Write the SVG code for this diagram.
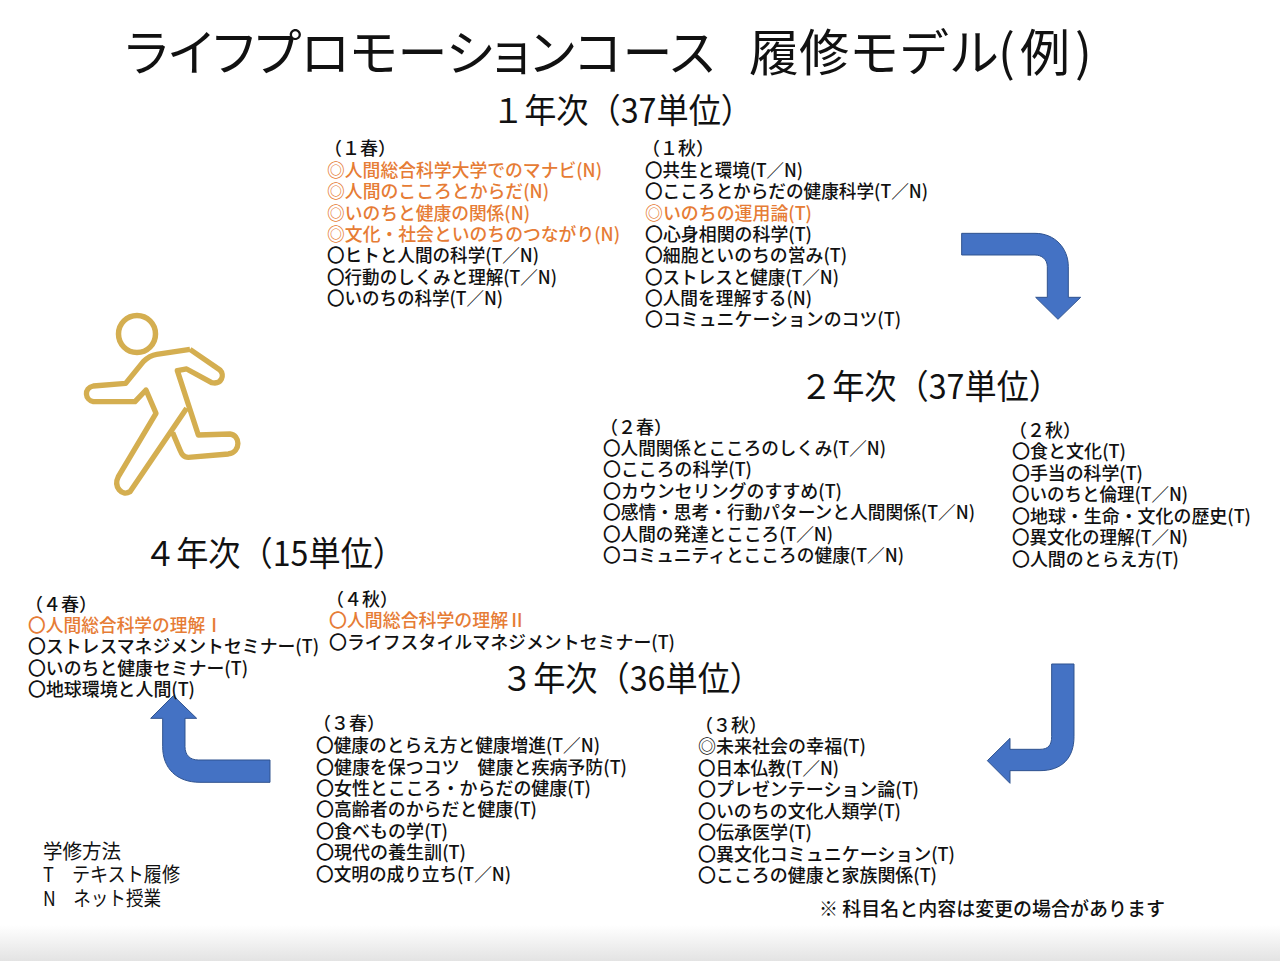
<svg xmlns="http://www.w3.org/2000/svg" width="1280" height="961" viewBox="0 0 1280 961">
<defs>
<linearGradient id="fade" x1="0" y1="0" x2="0" y2="1"><stop offset="0" stop-color="#fff"/><stop offset="1" stop-color="#e3e3e3"/></linearGradient>
</defs>
<style>
text{font-family:"Noto Sans CJK JP","Noto Sans",sans-serif;fill:#111;white-space:pre}
.t{font-size:18px;font-weight:500}
.o{fill:#E67C35}
.y{font-size:34px}
.l{font-size:20px}
.n{font-size:19px;font-weight:500}
.a{fill:#4472C4;stroke:#2F528F;stroke-width:3}
</style>
<rect width="1280" height="961" fill="#fff"/>
<rect y="925" width="1280" height="36" fill="url(#fade)"/>
<g id="title"><text y="70.500" font-size="50"><tspan x="125" textLength="640" lengthAdjust="spacing" style="font-feature-settings:'palt'">ライフプロモーションコース　</tspan><tspan x="749">履修モデル</tspan><tspan x="998">(</tspan><tspan x="1020">例</tspan><tspan x="1075">)</tspan></text></g>
<g id="runner" fill="none" stroke="#D4AE50" stroke-width="5.5" stroke-linejoin="round">
<circle cx="137" cy="334" r="18.5"/>
<path transform="translate(60,300) scale(.3333)" stroke-width="16" d="M390 148L480 210C495 225 485 255 455 248L380 207L352 212L415 405L510 402C540 405 545 455 505 462L385 472C370 472 365 462 360 450L338 398M380 325L210 575C185 590 160 560 175 530L288 340L258 270L225 305L100 305C75 300 70 265 100 258L197 250L250 185C265 170 275 165 290 163L390 148"/>
</g>
<g id="connectors">
<path class="a" transform="translate(940,220) scale(.3333)" d="M65 40H285C345 40 385 85 385 140V232H422L354 298L287 232H322V140C322 118 305 105 285 105H65Z"/>
<path class="a" transform="translate(970,650) scale(.3333)" d="M245 42H312V260C312 325 275 362 210 362H120V400L52 332L120 265V298H210C235 298 245 285 245 260Z"/>
<path class="a" transform="translate(140,680) scale(.3333)" d="M390 240V307H180C110 307 68 265 68 200V115H32L100 47L170 115H135V200C135 225 150 240 175 240Z"/>
</g>
<g id="year1"><text class="y" x="492" y="123" textLength="261" lengthAdjust="spacingAndGlyphs">１年次（37単位）</text></g>
<g id="spring1">
<text class="t" x="324" y="155" textLength="72" lengthAdjust="spacingAndGlyphs">（１春）</text>
<text class="t o" x="327" y="177" textLength="275" lengthAdjust="spacingAndGlyphs">◎人間総合科学大学でのマナビ(N)</text>
<text class="t o" x="327" y="198" textLength="222" lengthAdjust="spacingAndGlyphs">◎人間のこころとからだ(N)</text>
<text class="t o" x="327" y="219.500" textLength="203" lengthAdjust="spacingAndGlyphs">◎いのちと健康の関係(N)</text>
<text class="t o" x="327" y="241" textLength="293" lengthAdjust="spacingAndGlyphs">◎文化・社会といのちのつながり(N)</text>
<text class="t" x="327" y="262" textLength="212" lengthAdjust="spacingAndGlyphs">〇ヒトと人間の科学(T／N)</text>
<text class="t" x="327" y="283.500" textLength="230" lengthAdjust="spacingAndGlyphs">〇行動のしくみと理解(T／N)</text>
<text class="t" x="327" y="305" textLength="176" lengthAdjust="spacingAndGlyphs">〇いのちの科学(T／N)</text>
</g>
<g id="autumn1">
<text class="t" x="642" y="155" textLength="72" lengthAdjust="spacingAndGlyphs">（１秋）</text>
<text class="t" x="645" y="177" textLength="158" lengthAdjust="spacingAndGlyphs">〇共生と環境(T／N)</text>
<text class="t" x="645" y="198" textLength="283" lengthAdjust="spacingAndGlyphs">〇こころとからだの健康科学(T／N)</text>
<text class="t o" x="645" y="219.500" textLength="167" lengthAdjust="spacingAndGlyphs">◎いのちの運用論(T)</text>
<text class="t" x="645" y="241" textLength="167" lengthAdjust="spacingAndGlyphs">〇心身相関の科学(T)</text>
<text class="t" x="645" y="262" textLength="202" lengthAdjust="spacingAndGlyphs">〇細胞といのちの営み(T)</text>
<text class="t" x="645" y="283.500" textLength="194" lengthAdjust="spacingAndGlyphs">〇ストレスと健康(T／N)</text>
<text class="t" x="645" y="305" textLength="167" lengthAdjust="spacingAndGlyphs">〇人間を理解する(N)</text>
<text class="t" x="645" y="326" textLength="256" lengthAdjust="spacingAndGlyphs">〇コミュニケーションのコツ(T)</text>
</g>
<g id="year2"><text class="y" x="800" y="399" textLength="261" lengthAdjust="spacingAndGlyphs">２年次（37単位）</text></g>
<g id="spring2">
<text class="t" x="600" y="434" textLength="72" lengthAdjust="spacingAndGlyphs">（２春）</text>
<text class="t" x="603" y="455" textLength="283" lengthAdjust="spacingAndGlyphs">〇人間関係とこころのしくみ(T／N)</text>
<text class="t" x="603" y="476" textLength="149" lengthAdjust="spacingAndGlyphs">〇こころの科学(T)</text>
<text class="t" x="603" y="497.500" textLength="239" lengthAdjust="spacingAndGlyphs">〇カウンセリングのすすめ(T)</text>
<text class="t" x="603" y="519" textLength="372" lengthAdjust="spacingAndGlyphs">〇感情・思考・行動パターンと人間関係(T／N)</text>
<text class="t" x="603" y="540.500" textLength="230" lengthAdjust="spacingAndGlyphs">〇人間の発達とこころ(T／N)</text>
<text class="t" x="603" y="561.500" textLength="301" lengthAdjust="spacingAndGlyphs">〇コミュニティとこころの健康(T／N)</text>
</g>
<g id="autumn2">
<text class="t" x="1009" y="437" textLength="72" lengthAdjust="spacingAndGlyphs">（２秋）</text>
<text class="t" x="1012" y="458" textLength="114" lengthAdjust="spacingAndGlyphs">〇食と文化(T)</text>
<text class="t" x="1012" y="479.500" textLength="131" lengthAdjust="spacingAndGlyphs">〇手当の科学(T)</text>
<text class="t" x="1012" y="501" textLength="176" lengthAdjust="spacingAndGlyphs">〇いのちと倫理(T／N)</text>
<text class="t" x="1012" y="522.500" textLength="239" lengthAdjust="spacingAndGlyphs">〇地球・生命・文化の歴史(T)</text>
<text class="t" x="1012" y="544" textLength="176" lengthAdjust="spacingAndGlyphs">〇異文化の理解(T／N)</text>
<text class="t" x="1012" y="565.500" textLength="167" lengthAdjust="spacingAndGlyphs">〇人間のとらえ方(T)</text>
</g>
<g id="year4"><text class="y" x="144" y="566" textLength="261" lengthAdjust="spacingAndGlyphs">４年次（15単位）</text></g>
<g id="spring4">
<text class="t" x="25" y="611" textLength="72" lengthAdjust="spacingAndGlyphs">（４春）</text>
<text class="t o" x="28" y="632" textLength="195" lengthAdjust="spacingAndGlyphs">〇人間総合科学の理解Ⅰ</text>
<text class="t" x="28" y="653" textLength="291" lengthAdjust="spacingAndGlyphs">〇ストレスマネジメントセミナー(T)</text>
<text class="t" x="28" y="674.500" textLength="220" lengthAdjust="spacingAndGlyphs">〇いのちと健康セミナー(T)</text>
<text class="t" x="28" y="696" textLength="167" lengthAdjust="spacingAndGlyphs">〇地球環境と人間(T)</text>
</g>
<g id="autumn4">
<text class="t" x="326" y="606" textLength="72" lengthAdjust="spacingAndGlyphs">（４秋）</text>
<text class="t o" x="329" y="627" textLength="197" lengthAdjust="spacingAndGlyphs">〇人間総合科学の理解Ⅱ</text>
<text class="t" x="329" y="648.500" textLength="346" lengthAdjust="spacingAndGlyphs">〇ライフスタイルマネジメントセミナー(T)</text>
</g>
<g id="year3"><text class="y" x="501" y="691" textLength="261" lengthAdjust="spacingAndGlyphs">３年次（36単位）</text></g>
<g id="spring3">
<text class="t" x="313" y="730" textLength="72" lengthAdjust="spacingAndGlyphs">（３春）</text>
<text class="t" x="316" y="752" textLength="284" lengthAdjust="spacingAndGlyphs">〇健康のとらえ方と健康増進(T／N)</text>
<text class="t" x="316" y="773.500" textLength="311" lengthAdjust="spacingAndGlyphs">〇健康を保つコツ　健康と疾病予防(T)</text>
<text class="t" x="316" y="795" textLength="275" lengthAdjust="spacingAndGlyphs">〇女性とこころ・からだの健康(T)</text>
<text class="t" x="316" y="816" textLength="221" lengthAdjust="spacingAndGlyphs">〇高齢者のからだと健康(T)</text>
<text class="t" x="316" y="837.500" textLength="132" lengthAdjust="spacingAndGlyphs">〇食べもの学(T)</text>
<text class="t" x="316" y="859" textLength="150" lengthAdjust="spacingAndGlyphs">〇現代の養生訓(T)</text>
<text class="t" x="316" y="880.500" textLength="195" lengthAdjust="spacingAndGlyphs">〇文明の成り立ち(T／N)</text>
</g>
<g id="autumn3">
<text class="t" x="695" y="732" textLength="72" lengthAdjust="spacingAndGlyphs">（３秋）</text>
<text class="t" x="698" y="753" textLength="168" lengthAdjust="spacingAndGlyphs">◎未来社会の幸福(T)</text>
<text class="t" x="698" y="775" textLength="141" lengthAdjust="spacingAndGlyphs">〇日本仏教(T／N)</text>
<text class="t" x="698" y="796" textLength="221" lengthAdjust="spacingAndGlyphs">〇プレゼンテーション論(T)</text>
<text class="t" x="698" y="817.500" textLength="203" lengthAdjust="spacingAndGlyphs">〇いのちの文化人類学(T)</text>
<text class="t" x="698" y="839" textLength="114" lengthAdjust="spacingAndGlyphs">〇伝承医学(T)</text>
<text class="t" x="698" y="860.500" textLength="257" lengthAdjust="spacingAndGlyphs">〇異文化コミュニケーション(T)</text>
<text class="t" x="698" y="881.500" textLength="239" lengthAdjust="spacingAndGlyphs">〇こころの健康と家族関係(T)</text>
</g>
<g id="legend">
<text class="l" x="43" y="858.500" textLength="78" lengthAdjust="spacingAndGlyphs">学修方法</text>
<text class="l" x="43" y="881.500" textLength="137" lengthAdjust="spacingAndGlyphs">T　テキスト履修</text>
<text class="l" x="43" y="905.500" textLength="118" lengthAdjust="spacingAndGlyphs">N　ネット授業</text>
</g>
<g id="note"><text class="n" x="819" y="915.500" textLength="346" lengthAdjust="spacingAndGlyphs">※ 科目名と内容は変更の場合があります</text></g>
</svg>
